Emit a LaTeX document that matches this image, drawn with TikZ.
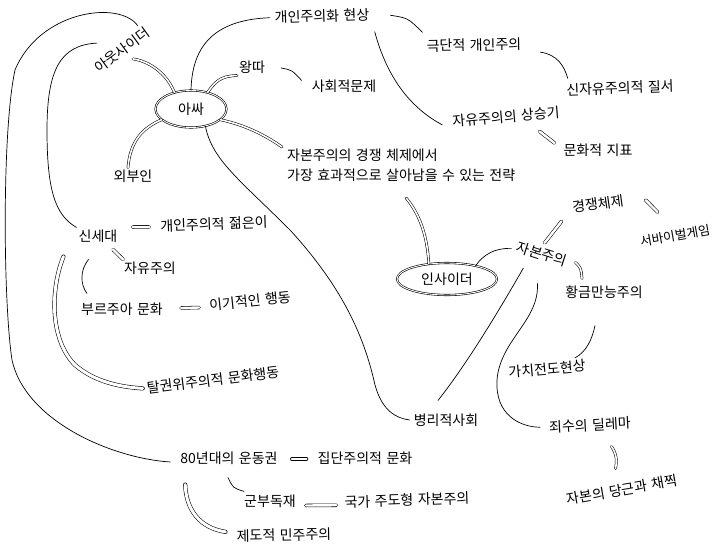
\documentclass[tikz,border=0pt]{standalone}
\usepackage{fontspec}
\newfontfamily\kr{Noto Sans CJK KR}[WordSpace=1.4]
\usetikzlibrary{shapes.geometric}
\begin{document}
\begin{tikzpicture}[x=1pt,y=-1pt,
  lbl/.style={font={\kr\fontsize{14}{20}\selectfont}, inner sep=2pt},
  bub/.style={lbl, ellipse, draw, double, double distance=0.9pt, line width=0.6pt, inner sep=0pt},
  ln/.style={line width=0.7pt, line cap=round},
  dbl/.style={double, double distance=1.6pt, line width=0.55pt, line cap=round},
  eqs/.style={double, double distance=2.4pt, line width=0.55pt, line cap=round}]
\fill[white] (0,0) rectangle (713,549);
\useasboundingbox (0,0) rectangle (713,549);

% nodes
\node[bub, minimum width=71pt, minimum height=37pt] (assa) at (191,109) {아싸};
\node[lbl, rotate=36] (outsider) at (122,50) {아웃사이더};
\node[lbl, rotate=2] (gaeinhwa) at (322,16) {개인주의화 현상};
\node[lbl] (wangtta) at (252,67) {왕따};
\node[lbl] (sahoe) at (344,86) {사회적문제};
\node[lbl, rotate=1] (geukdan) at (474,45) {극단적 개인주의};
\node[lbl, rotate=2] (sinjayu) at (620,88) {신자유주의적 질서};
\node[lbl, rotate=5] (jayusang) at (506,117) {자유주의의 상승기};
\node[lbl] (munhwa) at (598,150) {문화적 지표};
\node[lbl, align=left, anchor=north west] (jeonryak) at (285,147) {자본주의의 경쟁 체제에서\\가장 효과적으로 살아남을 수 있는 전략};
\node[lbl] (oebu) at (133,176) {외부인};
\node[lbl] (byeongri) at (446,420) {병리적사회};
\node[bub, minimum width=100pt, minimum height=32pt] (insider) at (447,279) {인사이더};
\node[lbl, rotate=-18] (jabon) at (542,254) {자본주의};
\node[lbl, rotate=8] (gyeongjaeng) at (598,204) {경쟁체제};
\node[lbl, rotate=10, font={\kr\fontsize{12.8}{20}\selectfont}] (survival) at (675,236) {서바이벌게임};
\node[lbl] (hwanggeum) at (604,292) {황금만능주의};
\node[lbl, rotate=5] (gachi) at (547,369) {가치전도현상};
\node[lbl, rotate=3] (joesu) at (590,425) {죄수의 딜레마};
\node[lbl, rotate=10] (danggeun) at (622,490) {자본의 당근과 채찍};
\node[lbl] (undong) at (229,458) {80년대의 운동권};
\node[lbl] (jipdan) at (365,458) {집단주의적 문화};
\node[lbl] (gunbu) at (270,501) {군부독재};
\node[lbl, rotate=2] (gukga) at (407,500) {국가 주도형 자본주의};
\node[lbl, rotate=1] (jedo) at (284,535) {제도적 민주주의};
\node[lbl] (sinsedae) at (98,236) {신세대};
\node[lbl, rotate=2] (gaeinjeok) at (214,224) {개인주의적 젊은이};
\node[lbl] (jayujuui) at (150,268) {자유주의};
\node[lbl] (bourgeois) at (122,309) {부르주아 문화};
\node[lbl, rotate=6] (igijeok) at (250,301) {이기적인 행동};
\node[lbl, rotate=7] (talgwon) at (213,380) {탈권위주의적 문화행동};

% outsider connectors
\draw[dbl] ([xshift=6pt,yshift=-2pt]outsider.south) .. controls (148,61) and (166,72) .. (assa.135);
\draw[ln] ([xshift=-7pt,yshift=-3pt]outsider.north east) .. controls (120,0) and (40,10) .. (15,70) .. controls (2,130) and (3,300) .. (12,360) .. controls (25,420) and (110,458) .. ([xshift=-8pt,yshift=-4pt]undong.west);
\draw[ln] ([xshift=-20pt]outsider.north) .. controls (60,45) and (47,70) .. (47,130) .. controls (47,190) and (55,215) .. (sinsedae.north west);

% assa connectors
\draw[ln] (assa.north) .. controls (192,50) and (210,20) .. ([xshift=-3pt]gaeinhwa.west);
\draw[dbl] (assa.45) .. controls (215,82) and (220,76) .. (wangtta.south west);
\draw[ln] ([xshift=14pt,yshift=-1pt]wangtta.east) .. controls (292,70) .. ([xshift=-8pt,yshift=-3pt]sahoe.north west);
\draw[dbl] (assa.-20) .. controls (245,125) and (265,135) .. ([xshift=-3pt]jeonryak.north west);
\draw[dbl] (assa.200) .. controls (142,128) and (130,142) .. ([xshift=-5pt]oebu.north);
\draw[ln] (assa.-50) .. controls (212,160) and (240,180) .. (290,230) .. controls (345,290) and (365,340) .. (375,385) .. controls (382,410) and (395,418) .. ([xshift=-2pt]byeongri.west);

% upper right chain
\draw[ln] ([xshift=19pt,yshift=-1pt]gaeinhwa.east) .. controls (408,18) .. ([xshift=-2pt,yshift=5pt]geukdan.north west);
\draw[ln] ([xshift=3pt,yshift=-9pt]gaeinhwa.south east) .. controls (385,70) and (405,105) .. ([xshift=-8pt,yshift=-3pt]jayusang.west);
\draw[ln] ([xshift=17pt,yshift=-8pt]geukdan.east) .. controls (558,55) and (564,66) .. ([xshift=4pt,yshift=3pt]sinjayu.north west);
\draw[eqs] ([xshift=33pt,yshift=-6pt]jayusang.south) -- ([xshift=-7pt,yshift=7pt]munhwa.west);

% insider side
\draw[dbl] ([xshift=5pt,yshift=-14pt]jeonryak.south) .. controls (420,215) and (427,235) .. (insider.140);
\draw[ln] (insider.25) .. controls (484,254) and (495,248) .. ([xshift=-4pt,yshift=-3pt]jabon.west);
\draw[eqs] ([yshift=3pt]jabon.north) -- ([xshift=-10pt,yshift=-5pt]gyeongjaeng.south west);
\draw[eqs] ([xshift=20pt]gyeongjaeng.east) -- ([xshift=-16pt,yshift=16pt]survival.north);
\draw[dbl] ([xshift=7pt]jabon.east) .. controls (581,268) .. ([xshift=-22pt,yshift=5pt]hwanggeum.north);
\draw[ln] ([xshift=-9pt,yshift=-25pt]hwanggeum.south) .. controls (592,340) and (586,352) .. ([xshift=-12pt,yshift=-1pt]gachi.north east);
\draw[ln] ([xshift=-16pt,yshift=-6pt]jabon.south) .. controls (505,300) and (470,360) .. ([xshift=-8pt,yshift=11pt]byeongri.north);
\draw[ln] ([xshift=-2pt,yshift=-21pt]jabon.south) .. controls (540,320) and (500,340) .. (497,380) .. controls (495,415) and (520,427) .. ([xshift=-7pt]joesu.west);
\draw[dbl] ([xshift=21pt,yshift=-13pt]joesu.south) .. controls (617,454) and (617,462) .. ([xshift=-5pt,yshift=13pt]danggeun.north);

% bottom
\draw[eqs] ([xshift=12pt,yshift=-1pt]undong.east) -- ([xshift=-9pt,yshift=-1pt]jipdan.west);
\draw[ln] ([xshift=-1pt,yshift=-11pt]undong.south) .. controls (233,488) .. ([xshift=2pt,yshift=1pt]gunbu.north west);
\draw[eqs] ([xshift=8pt,yshift=-4.5pt]gunbu.east) -- ([xshift=-6pt,yshift=-3pt]gukga.west);
\draw[dbl, double distance=3pt] ([xshift=7pt,yshift=-18pt]undong.south west) .. controls (186,510) and (200,528) .. ([xshift=-9pt,yshift=4pt]jedo.west);

% left
\draw[eqs] ([xshift=13pt,yshift=9pt]sinsedae.east) -- ([xshift=-9pt,yshift=-1pt]gaeinjeok.west);
\draw[eqs] ([xshift=15pt,yshift=-5pt]sinsedae.south) -- ([xshift=1pt]jayujuui.north west);
\draw[ln] ([xshift=12pt,yshift=-15pt]sinsedae.south west) .. controls (80,270) and (80,284) .. ([xshift=8pt,yshift=7pt]bourgeois.north west);
\draw[eqs] ([xshift=16pt,yshift=1pt]bourgeois.east) -- ([xshift=-8pt,yshift=-2pt]igijeok.west);
\draw[dbl, double distance=3pt] ([xshift=-13pt,yshift=-12pt]sinsedae.south west) .. controls (50,290) and (50,340) .. (75,365) .. controls (95,382) and (120,387) .. ([xshift=-2pt]talgwon.west);
\end{tikzpicture}
\end{document}
